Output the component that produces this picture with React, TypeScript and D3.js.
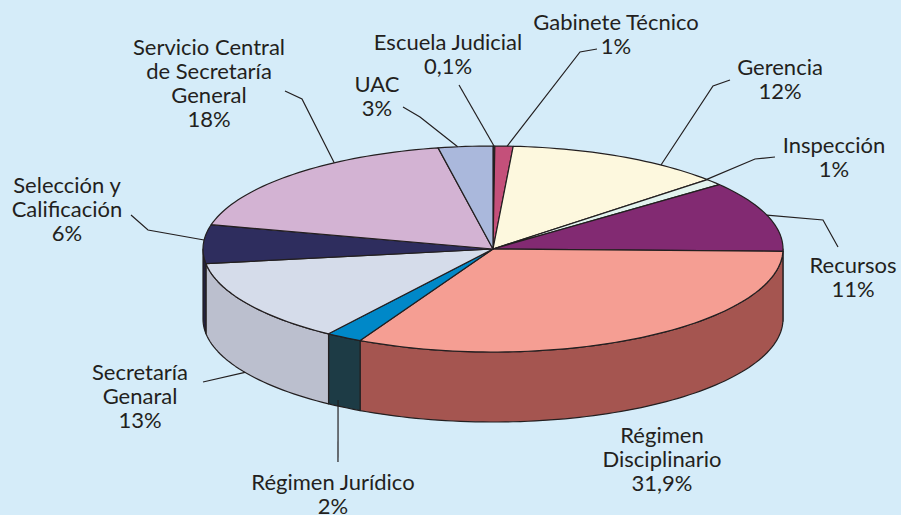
import React, { useEffect, useRef } from "react";
import * as d3 from "d3";

// data
const categories = [
  "Escuela Judicial",
  "Gabinete Técnico",
  "Gerencia",
  "Inspección",
  "Recursos",
  "Régimen Disciplinario",
  "Régimen Jurídico",
  "Secretaría Genaral",
  "Selección y Calificación",
  "Servicio Central de Secretaría General",
  "UAC",
];
const values = [0.1, 1, 12, 1, 11, 31.9, 2, 13, 6, 18, 3];
const valueLabels = ["0,1%", "1%", "12%", "1%", "11%", "31,9%", "2%", "13%", "6%", "18%", "3%"];
const labelLines = [
  ["Escuela Judicial"],
  ["Gabinete Técnico"],
  ["Gerencia"],
  ["Inspección"],
  ["Recursos"],
  ["Régimen", "Disciplinario"],
  ["Régimen Jurídico"],
  ["Secretaría", "Genaral"],
  ["Selección y", "Calificación"],
  ["Servicio Central", "de Secretaría", "General"],
  ["UAC"],
];
const topColors = ["#2a2a2a", "#c4507a", "#fdf8de", "#e2f3ee", "#822a72", "#f59e93", "#0088c8", "#d5dcea", "#2e2d5e", "#d3b3d3", "#aab8dc"];
const sideColors = ["#1a1a1a", "#8a3454", "#d8d2b4", "#b8cbc6", "#5c1d50", "#a55550", "#1d3b45", "#bbbfce", "#22213f", "#a98aa9", "#8290b4"];

// label layout: text centre x, first baseline y, leader elbow points, anchor angle on rim (deg), bottom rim?
const labelLayout = [
  { x: 448, y: 50, pts: [[459, 85]], angle: 0.2, bottom: false },
  { x: 616, y: 30, pts: [[597, 49], [580, 52]], angle: 2.8, bottom: false },
  { x: 780, y: 75, pts: [[730, 80], [713, 86]], angle: 35.4, bottom: false },
  { x: 834, y: 153, pts: [[775, 157], [755, 159]], angle: 47.5, bottom: false },
  { x: 853, y: 273, pts: [[838, 247], [823, 220]], angle: 70.8, bottom: false },
  { x: 662, y: 443, pts: [], angle: null, bottom: false },
  { x: 333, y: 490, pts: [[338, 462]], angle: 212.3, bottom: true, offset: -6 },
  { x: 140, y: 380, pts: [[203, 382]], angle: 238.8, bottom: true },
  { x: 67, y: 193, pts: [[131, 215], [148, 230]], angle: 275, bottom: false },
  { x: 209, y: 55, pts: [[285, 91], [302, 99]], angle: 326.8, bottom: false },
  { x: 377, y: 92, pts: [[403, 107], [420, 117]], angle: 353, bottom: false },
];

export default function App() {
  const svgRef = useRef<SVGSVGElement>(null);

  useEffect(() => {
    const w = 901;
    const h = 515;
    const cx = 493;
    const cy = 249;
    const rx = 290;
    const ry = 103;
    const depth = 70;
    const ink = "#231f20";

    const svg = d3.select(svgRef.current).attr("width", w).attr("height", h);
    svg.selectAll("*").remove();

    svg.append("rect").attr("width", w).attr("height", h).attr("fill", "#d5ecf9");

    const pie = d3.pie<number>().sort(null).startAngle(0).endAngle(2 * Math.PI);
    const arcs = pie(values);

    const px = (a: number) => cx + rx * Math.sin(a);
    const py = (a: number) => cy - ry * Math.cos(a);
    const line = d3.line();
    const rimPoints = (a0: number, a1: number, dy = 0) => {
      const n = Math.max(2, Math.ceil(((a1 - a0) / (2 * Math.PI)) * 240));
      return d3.range(n + 1).map((i) => {
        const a = a0 + ((a1 - a0) * i) / n;
        return [px(a), py(a) + dy] as [number, number];
      });
    };

    // sides (front half only)
    const frontA = Math.PI / 2;
    const frontB = (3 * Math.PI) / 2;
    const g = svg.append("g");
    arcs.forEach((d, i) => {
      const a0 = Math.max(d.startAngle, frontA);
      const a1 = Math.min(d.endAngle, frontB);
      if (a1 <= a0) return;
      const top = rimPoints(a0, a1);
      const bot = rimPoints(a0, a1, depth).reverse();
      g.append("path")
        .attr("d", line([...top, ...bot]) + "Z")
        .attr("fill", sideColors[i])
        .attr("stroke", ink)
        .attr("stroke-width", 1.2)
        .attr("stroke-linejoin", "round");
    });

    // tops
    arcs.forEach((d, i) => {
      const pts = [[cx, cy] as [number, number], ...rimPoints(d.startAngle, d.endAngle)];
      g.append("path")
        .attr("d", line(pts) + "Z")
        .attr("fill", topColors[i])
        .attr("stroke", ink)
        .attr("stroke-width", 1.2)
        .attr("stroke-linejoin", "round");
    });

    // leaders
    labelLayout.forEach((l) => {
      if (l.angle === null) return;
      const a = (l.angle * Math.PI) / 180;
      const end: [number, number] = [px(a), py(a) + (l.bottom ? depth + (l.offset || 0) : 0)];
      svg.append("path")
        .attr("d", line([...(l.pts as [number, number][]), end]))
        .attr("fill", "none")
        .attr("stroke", ink)
        .attr("stroke-width", 1.2);
    });

    // labels
    labelLayout.forEach((l, i) => {
      const lines = [...labelLines[i], valueLabels[i]];
      const t = svg.append("text")
        .attr("text-anchor", "middle")
        .attr("font-family", "Lato, 'Open Sans', sans-serif")
        .attr("font-size", 22)
        .attr("fill", ink);
      lines.forEach((s, k) => {
        t.append("tspan").attr("x", l.x).attr("y", l.y + k * 24).text(s);
      });
    });
  }, []);

  return (
    <div style={{ position: "absolute", left: 0, top: 0 }}>
      <svg ref={svgRef} style={{ display: "block" }}></svg>
    </div>
  );
}
